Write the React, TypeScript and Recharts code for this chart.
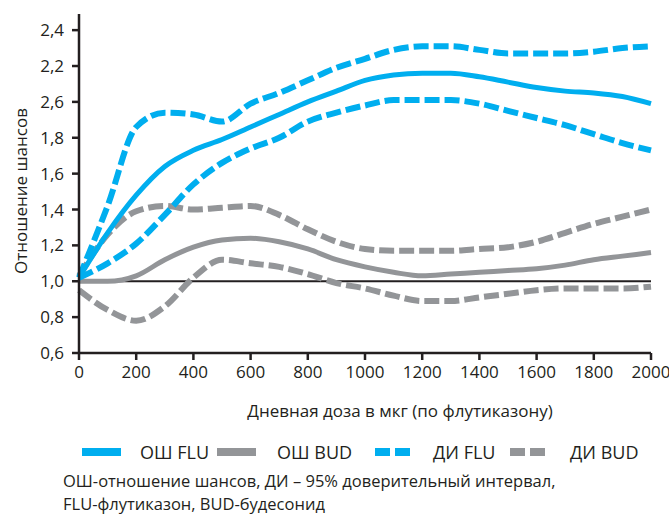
import { LineChart, Line, XAxis, YAxis, ReferenceLine, Legend, Label } from 'recharts';

const BLUE = '#00aeef';
const GRAY = '#939598';
const INK = '#231f20';
const FONT = '"Open Sans", sans-serif';

const doses = [0, 100, 200, 300, 400, 500, 600, 700, 800, 900, 1000, 1100, 1200, 1300, 1400, 1500, 1600, 1700, 1800, 1900, 2000];
const orFlu = [1.02, 1.27, 1.48, 1.64, 1.73, 1.79, 1.86, 1.93, 2.0, 2.06, 2.12, 2.15, 2.16, 2.16, 2.14, 2.11, 2.08, 2.06, 2.05, 2.03, 1.99];
const ciFluUpper = [1.02, 1.42, 1.86, 1.94, 1.93, 1.89, 1.99, 2.05, 2.12, 2.19, 2.24, 2.29, 2.31, 2.31, 2.29, 2.27, 2.27, 2.27, 2.28, 2.3, 2.31];
const ciFluLower = [1.02, 1.1, 1.21, 1.37, 1.54, 1.66, 1.74, 1.8, 1.89, 1.94, 1.98, 2.01, 2.01, 2.01, 1.99, 1.95, 1.91, 1.87, 1.82, 1.77, 1.73];
const orBud = [1.0, 1.0, 1.03, 1.12, 1.19, 1.23, 1.24, 1.22, 1.18, 1.12, 1.08, 1.05, 1.03, 1.04, 1.05, 1.06, 1.07, 1.09, 1.12, 1.14, 1.16];
const ciBudUpper = [1.03, 1.26, 1.39, 1.42, 1.4, 1.41, 1.42, 1.37, 1.29, 1.22, 1.18, 1.17, 1.17, 1.17, 1.18, 1.19, 1.22, 1.27, 1.32, 1.36, 1.4];
const ciBudLower = [0.95, 0.84, 0.78, 0.86, 1.02, 1.12, 1.1, 1.08, 1.04, 0.99, 0.96, 0.92, 0.89, 0.89, 0.91, 0.93, 0.95, 0.96, 0.96, 0.96, 0.97];

const xTicks = [0, 200, 400, 600, 800, 1000, 1200, 1400, 1600, 1800, 2000];
const yTicks = [0.6, 0.8, 1.0, 1.2, 1.4, 1.6, 1.8, 2.0, 2.2, 2.4];
// labels as printed in the source (2,0 is shown as 2,6)
const yTickLabels = ['0,6', '0,8', '1,0', '1,2', '1,4', '1,6', '1,8', '2,6', '2,2', '2,4'];

const legendNames = ['ОШ FLU', 'ОШ BUD', 'ДИ FLU', 'ДИ BUD'];
const footnote = ['ОШ-отношение шансов, ДИ – 95% доверительный интервал,', 'FLU-флутиказон, BUD-будесонид'];

const data = doses.map((dose, i) => ({
  dose,
  orFlu: orFlu[i],
  ciFluUpper: ciFluUpper[i],
  ciFluLower: ciFluLower[i],
  orBud: orBud[i],
  ciBudUpper: ciBudUpper[i],
  ciBudLower: ciBudLower[i],
}));

const legendStyle = [
  { color: BLUE, dashed: false, swatchX: 82, textX: 140 },
  { color: GRAY, dashed: false, swatchX: 217, textX: 277 },
  { color: BLUE, dashed: true, swatchX: 375, textX: 433 },
  { color: GRAY, dashed: true, swatchX: 510, textX: 570 },
];

const ChartLegend = () => (
  <div style={{ position: 'relative', width: 669, height: 30, fontFamily: FONT, fontSize: 18, color: INK }}>
    {legendNames.map((name, i) => {
      const s = legendStyle[i];
      return (
        <div key={name}>
          <svg style={{ position: 'absolute', left: s.swatchX, top: 11 }} width={40} height={8}>
            {s.dashed ? (
              <>
                <rect x={0} y={0} width={15} height={8} fill={s.color} />
                <rect x={20} y={0} width={15} height={8} fill={s.color} />
              </>
            ) : (
              <rect x={0} y={0} width={39} height={8} fill={s.color} />
            )}
          </svg>
          <span style={{ position: 'absolute', left: s.textX, top: 15, transform: 'translateY(-50%)', whiteSpace: 'nowrap', lineHeight: 1 }}>
            {name}
          </span>
        </div>
      );
    })}
  </div>
);

const tickStyle = { fill: INK, fontSize: 17, fontFamily: FONT };

const App = () => {
  return (
    <div style={{ position: 'absolute', left: 0, top: 0, width: 669, height: 515, background: '#fff', overflow: 'hidden' }}>
      <LineChart width={669} height={470} data={data} margin={{ top: 14, right: 18, left: 0, bottom: 3 }}>
        <XAxis
          dataKey='dose'
          type='number'
          domain={[0, 2000]}
          ticks={xTicks}
          height={84}
          tick={tickStyle}
          tickSize={7}
          tickMargin={6}
          axisLine={{ stroke: INK, strokeWidth: 2.5 }}
          tickLine={{ stroke: INK, strokeWidth: 2.5 }}
        >
          <Label
            content={({ viewBox }: any) => (
              <text
                x={viewBox.x + viewBox.width / 2 + 35}
                y={410}
                textAnchor='middle'
                dominantBaseline='central'
                fill={INK}
                fontSize={17}
                fontFamily={FONT}
              >
                Дневная доза в мкг (по флутиказону)
              </text>
            )}
          />
        </XAxis>
        <YAxis
          type='number'
          domain={[0.6, 2.49]}
          ticks={yTicks}
          tickFormatter={(v: number) => yTickLabels[yTicks.findIndex((t) => Math.abs(t - v) < 1e-6)] ?? ''}
          width={79}
          tick={tickStyle}
          tickSize={7}
          tickMargin={8}
          axisLine={{ stroke: INK, strokeWidth: 2.5 }}
          tickLine={{ stroke: INK, strokeWidth: 2.5 }}
        >
          <Label
            content={() => (
              <text
                x={20}
                y={191}
                transform='rotate(-90 20 191)'
                textAnchor='middle'
                dominantBaseline='central'
                fill={INK}
                fontSize={17}
                fontFamily={FONT}
              >
                Отношение шансов
              </text>
            )}
          />
        </YAxis>
        <ReferenceLine y={1} stroke={INK} strokeWidth={2} />
        <Line dataKey='ciBudLower' type='monotone' stroke={GRAY} strokeWidth={6} strokeDasharray='15 5' dot={false} isAnimationActive={false} />
        <Line dataKey='ciBudUpper' type='monotone' stroke={GRAY} strokeWidth={6} strokeDasharray='15 5' dot={false} isAnimationActive={false} />
        <Line dataKey='orBud' type='monotone' stroke={GRAY} strokeWidth={5} dot={false} isAnimationActive={false} />
        <Line dataKey='ciFluLower' type='monotone' stroke={BLUE} strokeWidth={6} strokeDasharray='15 5' dot={false} isAnimationActive={false} />
        <Line dataKey='ciFluUpper' type='monotone' stroke={BLUE} strokeWidth={6} strokeDasharray='15 5' dot={false} isAnimationActive={false} />
        <Line dataKey='orFlu' type='monotone' stroke={BLUE} strokeWidth={5} dot={false} isAnimationActive={false} />
        <Legend verticalAlign='bottom' content={() => <ChartLegend />} wrapperStyle={{ left: 0, width: 669, height: 30 }} />
      </LineChart>
      <div style={{ position: 'absolute', left: 63, top: 469, fontFamily: FONT, fontSize: 16.5, lineHeight: '23px', color: INK, whiteSpace: 'nowrap' }}>
        {footnote.map((line) => (
          <div key={line}>{line}</div>
        ))}
      </div>
    </div>
  );
};

export default App;
